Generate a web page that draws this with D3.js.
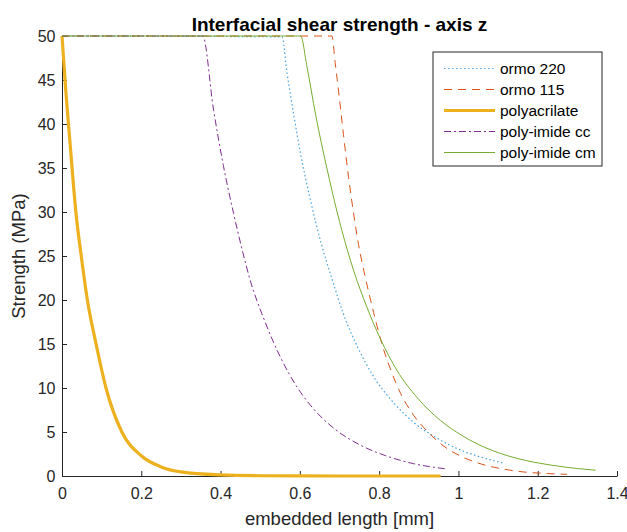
<!DOCTYPE html>
<html>
<head>
<meta charset="utf-8">
<script src="https://cdn.jsdelivr.net/npm/d3@7"></script>
<style>
  body { margin: 0; background: #fff; }
  svg { font-family: "Liberation Sans", Arial, sans-serif; }
  .axis text { fill: #262626; font-size: 16px; }
  .axis path, .axis line { stroke: #262626; }
</style>
</head>
<body>
<div id="chart"></div>
<script>
// values
const ormo220_x = [0, 0.555, 0.567, 0.584, 0.601, 0.626, 0.654, 0.681, 0.71, 0.744, 0.786, 0.837, 0.887, 0.946, 1.0, 1.053, 1.114];
const ormo220_y = [50, 49.9, 46, 41.2, 36.8, 31.5, 26.4, 22.4, 18.4, 14.8, 11.3, 8.3, 6.1, 4.3, 3.05, 2.2, 1.45];

const ormo115_x = [0, 0.681, 0.689, 0.698, 0.71, 0.723, 0.736, 0.748, 0.765, 0.786, 0.807, 0.828, 0.854, 0.887, 0.921, 0.963, 1.013, 1.051, 1.114, 1.173, 1.224, 1.274];
const ormo115_y = [50, 50, 47.0, 43.6, 38.8, 33.9, 29.7, 26.3, 22.6, 18.6, 15.0, 12.2, 9.4, 6.9, 5.1, 3.4, 2.1, 1.45, 0.78, 0.42, 0.28, 0.19];

const polyacrilate_x = [0, 0.01, 0.02, 0.035, 0.05, 0.064, 0.086, 0.111, 0.151, 0.2, 0.25, 0.3, 0.4, 0.5, 0.6, 0.8, 0.955];
const polyacrilate_y = [50, 43.5, 38, 30, 24.5, 20, 15, 10, 5, 2.3, 1.03, 0.46, 0.12, 0.03, 0.01, 0, 0];

const polyimideCC_x = [0, 0.355, 0.382, 0.407, 0.433, 0.454, 0.475, 0.508, 0.551, 0.593, 0.635, 0.685, 0.753, 0.82, 0.887, 0.971];
const polyimideCC_y = [50, 50, 41.7, 35.3, 29.8, 25.8, 22.2, 18.0, 13.5, 10.1, 7.6, 5.45, 3.5, 2.25, 1.4, 0.8];

const polyimideCM_x = [0, 0.602, 0.618, 0.64, 0.668, 0.694, 0.719, 0.736, 0.769, 0.803, 0.845, 0.896, 0.955, 1.009, 1.064, 1.148, 1.232, 1.3, 1.346];
const polyimideCM_y = [50, 50, 46.5, 41.0, 35.0, 30.0, 25.8, 23.3, 19.2, 15.6, 12.0, 8.9, 6.3, 4.6, 3.3, 2.0, 1.25, 0.85, 0.66];

const series_names = ['ormo 220', 'ormo 115', 'polyacrilate', 'poly-imide cc', 'poly-imide cm'];
const x_ticks = [0, 0.2, 0.4, 0.6, 0.8, 1, 1.2, 1.4];
const y_ticks = [0, 5, 10, 15, 20, 25, 30, 35, 40, 45, 50];

const zip = (xs, ys) => xs.map((x, i) => ({x: x, y: ys[i]}));

const series = [
    {name: series_names[0], color: '#4aa3df', width: 1.2, dash: '1.5,2.5', values: zip(ormo220_x, ormo220_y)},
    {name: series_names[1], color: '#D95319', width: 1, dash: '8,6', values: zip(ormo115_x, ormo115_y)},
    {name: series_names[2], color: '#EDB120', width: 3.2, dash: null, values: zip(polyacrilate_x, polyacrilate_y)},
    {name: series_names[3], color: '#7E2F8E', width: 1, dash: '7,3,2,3', values: zip(polyimideCC_x, polyimideCC_y)},
    {name: series_names[4], color: '#77AC30', width: 1, dash: null, values: zip(polyimideCM_x, polyimideCM_y)}
];

const svg_width = 627;
const svg_height = 532;
const margin = {top: 36, right: 10, bottom: 56, left: 62};
const chart_width = svg_width - margin.left - margin.right;
const chart_height = svg_height - margin.top - margin.bottom;

const svg = d3.select('#chart').append('svg')
    .attr('width', svg_width)
    .attr('height', svg_height);
const g = svg.append('g').attr('transform', `translate(${margin.left}, ${margin.top})`);

const x_scale = d3.scaleLinear().domain([0, 1.4]).range([0, chart_width]);
const y_scale = d3.scaleLinear().domain([0, 50]).range([chart_height, 0]);

// axes, ticks inward like matlab
const x_axis = d3.axisBottom(x_scale).tickValues(x_ticks).tickFormat(d3.format('~g'))
    .tickSizeInner(-5).tickSizeOuter(0).tickPadding(12);
g.append('g').attr('class', 'x axis')
    .attr('transform', `translate(0, ${chart_height})`)
    .call(x_axis);

const y_axis = d3.axisLeft(y_scale).tickValues(y_ticks)
    .tickSizeInner(-5).tickSizeOuter(0).tickPadding(6.5);
g.append('g').attr('class', 'y axis').call(y_axis);

// lines
const line_generator = d3.line()
    .x(d => x_scale(d.x))
    .y(d => y_scale(d.y))
    .curve(d3.curveMonotoneX);

g.selectAll('.line-series')
    .data(series)
    .enter()
    .append('path')
    .attr('class', 'line-series')
    .attr('d', d => line_generator(d.values))
    .style('fill', 'none')
    .style('stroke', d => d.color)
    .style('stroke-width', d => d.width)
    .style('stroke-dasharray', d => d.dash);

// title and labels
svg.append('text')
    .attr('x', margin.left + chart_width / 2)
    .attr('y', 31)
    .attr('text-anchor', 'middle')
    .style('font-size', '19px')
    .style('font-weight', 'bold')
    .style('fill', '#000')
    .text('Interfacial shear strength - axis z');

svg.append('text')
    .attr('x', margin.left + chart_width / 2)
    .attr('y', 525)
    .attr('text-anchor', 'middle')
    .style('font-size', '18.5px')
    .style('fill', '#262626')
    .text('embedded length [mm]');

svg.append('text')
    .attr('transform', `translate(25, ${margin.top + chart_height / 2}) rotate(-90)`)
    .attr('text-anchor', 'middle')
    .style('font-size', '18.5px')
    .style('fill', '#262626')
    .text('Strength (MPa)');

// legend
const legend = svg.append('g').attr('transform', 'translate(433, 52)');
legend.append('rect')
    .attr('width', 169).attr('height', 114)
    .style('fill', '#fff')
    .style('stroke', '#262626')
    .style('stroke-width', 1);

const rows = legend.selectAll('.legend-row')
    .data(series)
    .enter()
    .append('g')
    .attr('class', 'legend-row')
    .attr('transform', (d, i) => `translate(0, ${16.5 + i * 21})`);

rows.append('line')
    .attr('x1', 11).attr('x2', 62)
    .style('stroke', d => d.color)
    .style('stroke-width', d => d.width)
    .style('stroke-dasharray', d => d.dash);

rows.append('text')
    .attr('x', 67)
    .attr('dy', '0.35em')
    .style('font-size', '15.5px')
    .style('fill', '#000')
    .text(d => d.name);
</script>
</body>
</html>
